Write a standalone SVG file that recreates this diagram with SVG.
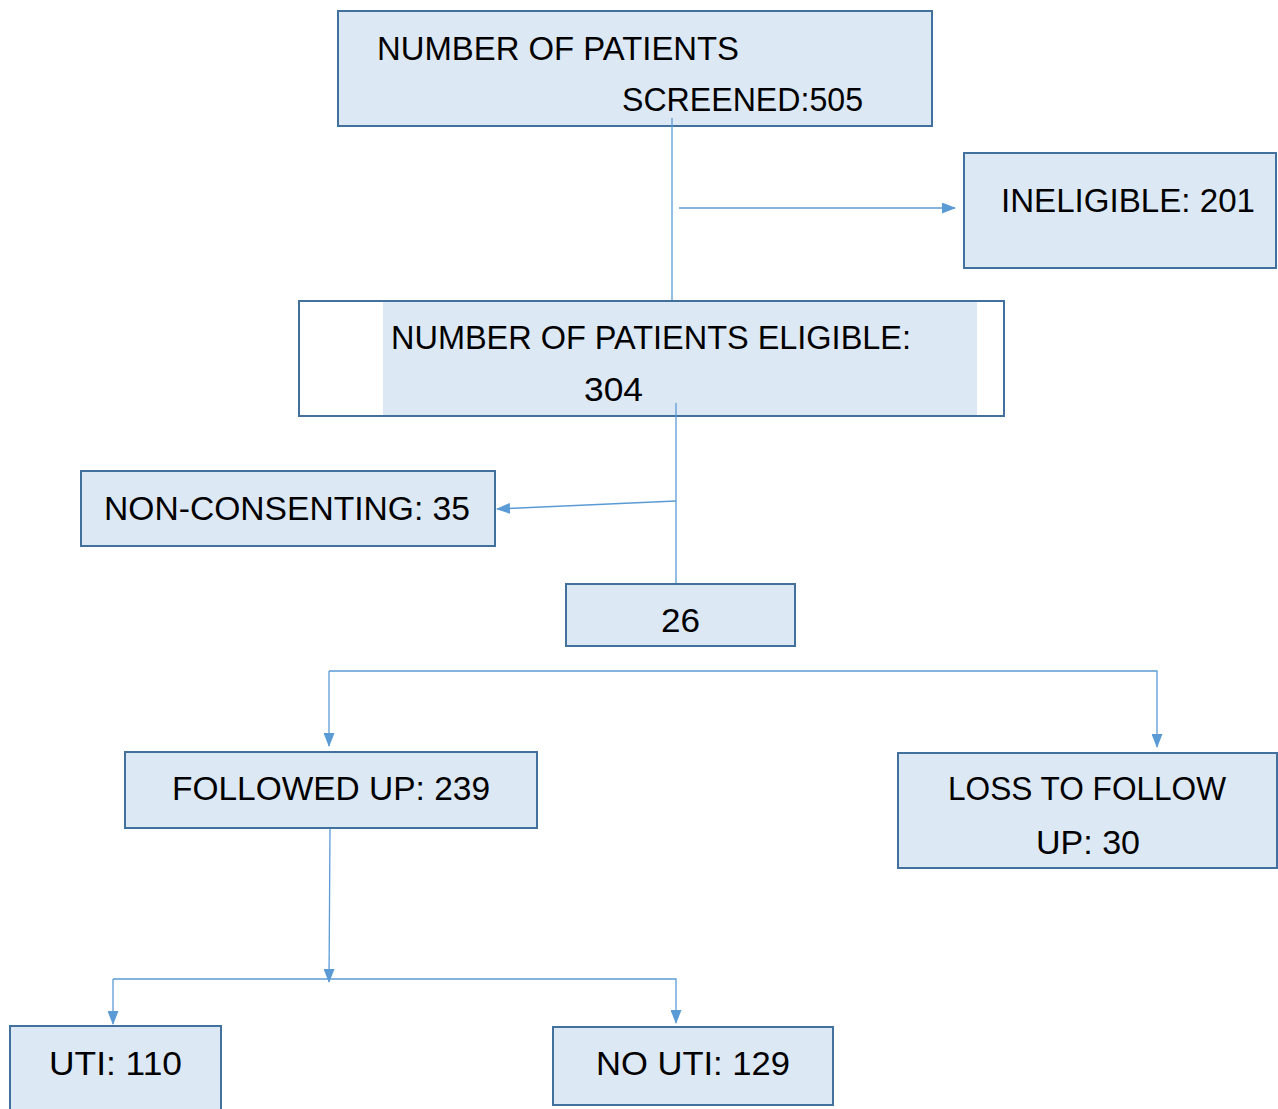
<svg xmlns="http://www.w3.org/2000/svg" width="1278" height="1109" viewBox="0 0 1278 1109">
<style>
.box{fill:#dde8f5;stroke:#41719c;stroke-width:2}
.t{font-family:"Liberation Sans",Arial,sans-serif;font-size:34px;fill:#000}
.c{fill:none;stroke:#5b9bd5;stroke-width:1.3}
</style>
<defs>
<marker id="ah" markerWidth="14" markerHeight="11" refX="13" refY="5.5" orient="auto" markerUnits="userSpaceOnUse" viewBox="0 0 14 11">
<path d="M0,0 L14,5.5 L0,11 z" fill="#5b9bd5"/>
</marker>
</defs>
<rect width="1278" height="1109" fill="#fff"/>
<g id="n-screened">
<rect class="box" x="338" y="11" width="594" height="115"/>
<text class="t" x="377" y="60" textLength="362" lengthAdjust="spacingAndGlyphs">NUMBER OF PATIENTS</text>
<text class="t" x="622" y="111" textLength="241" lengthAdjust="spacingAndGlyphs">SCREENED:505</text>
</g>
<g id="n-ineligible">
<rect class="box" x="964" y="153" width="312" height="115"/>
<text class="t" x="1001" y="212" textLength="254" lengthAdjust="spacingAndGlyphs">INELIGIBLE: 201</text>
</g>
<g id="n-eligible">
<rect x="299" y="301" width="705" height="115" fill="#fff" stroke="#41719c" stroke-width="2"/>
<rect x="383" y="302" width="594" height="113" fill="#dde8f5"/>
<text class="t" x="391" y="349" textLength="520" lengthAdjust="spacingAndGlyphs">NUMBER OF PATIENTS ELIGIBLE:</text>
<text class="t" x="584" y="401" textLength="59" lengthAdjust="spacingAndGlyphs">304</text>
</g>
<g id="n-nonconsenting">
<rect class="box" x="81" y="471" width="414" height="75"/>
<text class="t" x="104" y="520" textLength="366" lengthAdjust="spacingAndGlyphs">NON-CONSENTING: 35</text>
</g>
<g id="n-26">
<rect class="box" x="566" y="584" width="229" height="62"/>
<text class="t" x="661" y="632" textLength="39" lengthAdjust="spacingAndGlyphs">26</text>
</g>
<g id="n-followed">
<rect class="box" x="125" y="752" width="412" height="76"/>
<text class="t" x="172" y="800" textLength="318" lengthAdjust="spacingAndGlyphs">FOLLOWED UP: 239</text>
</g>
<g id="n-loss">
<rect class="box" x="898" y="753" width="379" height="115"/>
<text class="t" x="948" y="800" textLength="278" lengthAdjust="spacingAndGlyphs">LOSS TO FOLLOW</text>
<text class="t" x="1036" y="854" textLength="104" lengthAdjust="spacingAndGlyphs">UP: 30</text>
</g>
<g id="n-uti">
<rect class="box" x="10" y="1026" width="211" height="90"/>
<text class="t" x="49" y="1075" textLength="133" lengthAdjust="spacingAndGlyphs">UTI: 110</text>
</g>
<g id="n-nouti">
<rect class="box" x="553" y="1027" width="280" height="78"/>
<text class="t" x="596" y="1075" textLength="194" lengthAdjust="spacingAndGlyphs">NO UTI: 129</text>
</g>
<g id="connectors">
<path class="c" d="M672,118 V300"/>
<path class="c" d="M679,208 H955" marker-end="url(#ah)"/>
<path class="c" d="M676,403 V583"/>
<path class="c" d="M676,501 L497,509" marker-end="url(#ah)"/>
<path class="c" d="M329,671 H1157 V747" marker-end="url(#ah)"/>
<path class="c" d="M329,671 V746" marker-end="url(#ah)"/>
<path class="c" d="M330,829 L329,982" marker-end="url(#ah)"/>
<path class="c" d="M113,979 H676 V1023" marker-end="url(#ah)"/>
<path class="c" d="M113,979 V1024" marker-end="url(#ah)"/>
</g>
</svg>
